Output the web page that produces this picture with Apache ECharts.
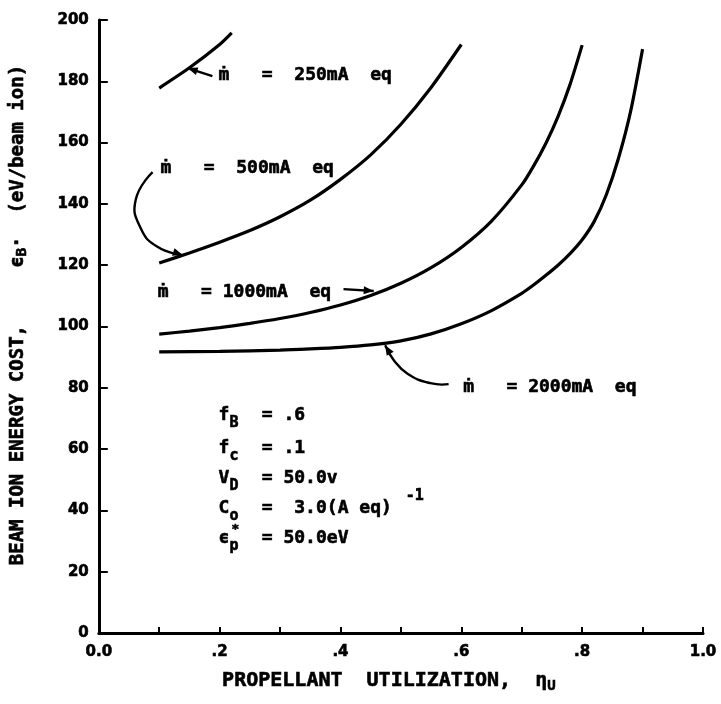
<!DOCTYPE html>
<html><head><meta charset="utf-8">
<script src="https://cdn.jsdelivr.net/npm/echarts@6/dist/echarts.min.js"></script>
<style>html,body{margin:0;padding:0;background:#fff}#c{width:721px;height:704px}</style>
</head><body><div id="c"></div>
<script>
// ---- data ----
const xTickLabels = ['0.0', '.2', '.4', '.6', '.8', '1.0'];
const yTickLabels = ['0', '20', '40', '60', '80', '100', '120', '140', '160', '180', '200'];

const curve250x = [0.10, 0.15, 0.20, 0.22];
const curve250y = [177.8, 184.4, 192.0, 195.8];

const curve500x = [0.10, 0.15, 0.20, 0.25, 0.30, 0.35, 0.40, 0.45, 0.50, 0.55, 0.60];
const curve500y = [120.7, 124.0, 127.5, 131.3, 135.8, 141.2, 148.0, 156.0, 166.0, 178.0, 192.0];

const curve1000x = [0.10, 0.15, 0.20, 0.25, 0.30, 0.35, 0.40, 0.45, 0.50, 0.55, 0.60, 0.65, 0.70, 0.72, 0.74, 0.76, 0.78, 0.80];
const curve1000y = [97.5, 98.5, 99.65, 101.0, 102.6, 104.55, 107.0, 110.1, 114.1, 119.2, 125.8, 134.4, 146.2, 152.5, 159.8, 168.5, 179.0, 191.8];

const curve2000x = [0.10, 0.20, 0.30, 0.35, 0.40, 0.45, 0.50, 0.55, 0.60, 0.65, 0.70, 0.72, 0.74, 0.76, 0.78, 0.80, 0.82, 0.84, 0.86, 0.88, 0.90];
const curve2000y = [91.7, 91.9, 92.3, 92.7, 93.2, 94.0, 95.3, 97.6, 100.9, 105.2, 110.8, 113.6, 116.7, 120.0, 123.8, 128.3, 134.3, 143.0, 154.8, 170.0, 190.5];

// ---- annotations (anchored in data coordinates) ----
const labelTexts = ['\u1E41   =  250mA  eq', '\u1E41   =  500mA  eq', '\u1E41   = 1000mA  eq', '\u1E41   = 2000mA  eq'];
const labelAt = [[0.198, 182.0], [0.102, 151.7], [0.0975, 111.3], [0.603, 80.0]];

const arrowPaths = [
  [[0.188, 181.7], [0.147, 184.3]],
  [[0.089, 150.4], [0.061, 141.3], [0.069, 132.2], [0.097, 126.0], [0.139, 123.3]],
  [[0.405, 112.2], [0.455, 111.6]],
  [[0.579, 81.2], [0.549, 81.5], [0.511, 84.6], [0.488, 89.1], [0.474, 93.9]]
];

const paramSymbols = ['f', 'f', 'V', 'C', '\u03F5'];
const paramSubs = ['B', 'c', 'D', 'o', 'p'];
const paramValues = ['= .6', '= .1', '= 50.0v', '=  3.0(A eq)', '= 50.0eV'];
const paramAt = [[0.198, 71.1], [0.198, 60.4], [0.198, 50.6], [0.198, 40.8], [0.198, 31.0]];

// ---- chart ----
const FONT = 'DejaVu Sans Mono';
const TICKFONT = 'DejaVu Sans';
const chart = echarts.init(document.getElementById('c'));
const toPairs = (xs, ys) => xs.map((x, i) => [x, ys[i]]);
const curves = [[curve250x, curve250y], [curve500x, curve500y], [curve1000x, curve1000y], [curve2000x, curve2000y]];

const heavy = { textBorderColor: '#000', textBorderWidth: 0.6 };
const mkRich = size => ({
  t: Object.assign({ fontFamily: FONT, fontWeight: 'bold', fontSize: size, color: '#000', lineHeight: 24 }, heavy),
  s: Object.assign({ fontFamily: FONT, fontWeight: 'bold', fontSize: 14, color: '#000', lineHeight: 24, verticalAlign: 'bottom' }, heavy)
});

chart.setOption({
  animation: false,
  backgroundColor: '#fff',
  grid: { left: 98, right: 18, top: 20, bottom: 71 },
  xAxis: {
    type: 'value', min: 0, max: 1, interval: 0.1,
    axisLine: { lineStyle: { color: '#000', width: 3 } },
    axisTick: { inside: true, length: 6, lineStyle: { color: '#000', width: 2 } },
    splitLine: { show: false },
    axisLabel: Object.assign({
      margin: 12, color: '#000', fontFamily: TICKFONT, fontWeight: 'bold', fontSize: 15,
      formatter: v => { const k = Math.round(v * 10); return k % 2 ? '' : xTickLabels[k / 2]; }
    }, heavy),
    name: '{t|PROPELLANT  UTILIZATION,  \u03B7}{s|U}{t|  }',
    nameLocation: 'middle', nameGap: 36,
    nameTextStyle: { rich: mkRich(20) }
  },
  yAxis: {
    type: 'value', min: 0, max: 200, interval: 20,
    axisLine: { lineStyle: { color: '#000', width: 3 } },
    axisTick: { inside: true, length: 9, lineStyle: { color: '#000', width: 2 } },
    splitLine: { show: false },
    axisLabel: Object.assign({
      margin: 10, color: '#000', fontFamily: TICKFONT, fontWeight: 'bold', fontSize: 15,
      formatter: v => yTickLabels[Math.round(v / 20)]
    }, heavy),
    name: '{t|  BEAM ION ENERGY COST,     \u03F5}{s|B}{t|\u00B7  (eV/beam ion)}',
    nameLocation: 'middle', nameGap: 69,
    nameTextStyle: { rich: mkRich(19) }
  },
  series: curves.map(([xs, ys]) => ({
    type: 'line', data: toPairs(xs, ys), symbol: 'none', showSymbol: false,
    smooth: 0.25, silent: true, lineStyle: { color: '#000', width: 3.2 }
  }))
});

// ---- annotation graphics ----
const px = p => chart.convertToPixel({ gridIndex: 0 }, p);
const txt = (x, y, text, size) => ({
  type: 'text', x: x, y: y, silent: true,
  style: { text: text, fontFamily: FONT, fontWeight: 'bold', fontSize: size, fill: '#000',
           stroke: '#000', lineWidth: 0.6, align: 'left', verticalAlign: 'middle' }
});
const g = [];
labelTexts.forEach((t, i) => { const [x, y] = px(labelAt[i]); g.push(txt(x, y, t, 18)); });
arrowPaths.forEach(path => {
  const pts = path.map(px);
  g.push({ type: 'polyline', silent: true, shape: { points: pts, smooth: pts.length > 2 ? 0.5 : 0 },
           style: { stroke: '#000', lineWidth: 2.4, fill: null } });
  const a = pts[pts.length - 1], b = pts[pts.length - 2];
  const dx = a[0] - b[0], dy = a[1] - b[1], L = Math.hypot(dx, dy), ux = dx / L, uy = dy / L;
  const len = 10, w = 4;
  g.push({ type: 'polygon', silent: true, shape: { points: [a,
    [a[0] - ux * len - uy * w, a[1] - uy * len + ux * w],
    [a[0] - ux * len + uy * w, a[1] - uy * len - ux * w]] }, style: { fill: '#000' } });
});
const pitch = 18 * 0.602;
paramAt.forEach((p, i) => {
  const [x, y] = px(p);
  g.push(txt(x, y, paramSymbols[i], 18));
  g.push(txt(x + 11, y + 8, paramSubs[i], 15));
  g.push(txt(x + 4 * pitch, y, paramValues[i], 18));
  if (i === 3) g.push(txt(x + (4 + paramValues[i].length) * pitch + 14, y - 12, '-1', 15));
  if (i === 4) g.push(txt(x + 13, y - 8, '*', 13));
});
chart.setOption({ graphic: g });
</script>
</body></html>
